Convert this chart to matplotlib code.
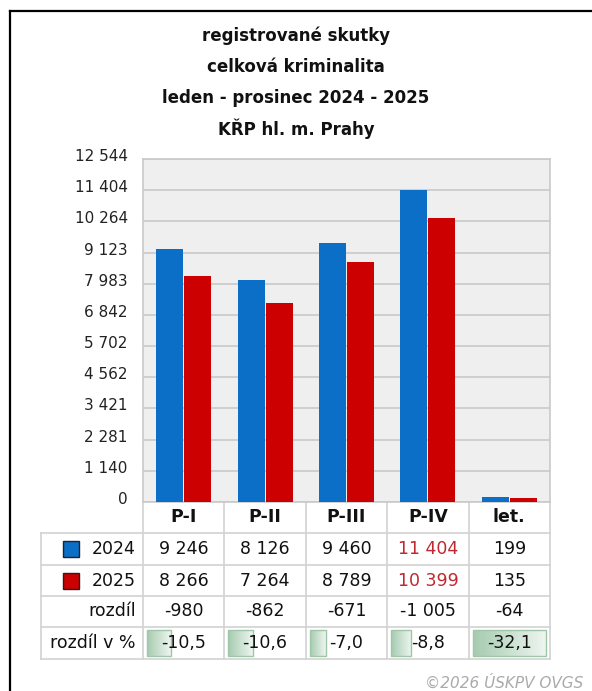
import numpy as np
import matplotlib
matplotlib.use("Agg")
import matplotlib.pyplot as plt
from matplotlib.patches import Rectangle
from matplotlib.colors import LinearSegmentedColormap
import matplotlib.transforms as mtransforms

# ---- data ----
TITLE_LINES = ["registrované skutky", "celková kriminalita",
               "leden - prosinec 2024 - 2025", "KŘP hl. m. Prahy"]
CATEGORIES = ["P-I", "P-II", "P-III", "P-IV", "let."]
VALUES_2024 = [9246, 8126, 9460, 11404, 199]
VALUES_2025 = [8266, 7264, 8789, 10399, 135]
DIFF = [-980, -862, -671, -1005, -64]
DIFF_PCT = [-10.5, -10.6, -7.0, -8.8, -32.1]
Y_TICKS = [0, 1140, 2281, 3421, 4562, 5702, 6842, 7983, 9123, 10264, 11404, 12544]
HIGHLIGHT_COL = 3  # P-IV values shown in red

BLUE = "#0b6fc8"
RED = "#cc0000"
GRID = "#c9c9c9"
TABLE_LINE = "#d2d2d2"
W, H = 592, 691


def fmt(v):
    return f"{v:,}".replace(",", " ")


def fmt_pct(v):
    return f"{v:.1f}".replace(".", ",")


fig = plt.figure(figsize=(W / 100, H / 100), dpi=100, facecolor="white")

# overlay axes in pixel coordinates for the table / titles / frame
ov = fig.add_axes([0, 0, 1, 1], zorder=0)
ov.patch.set_visible(False)
ov.axis("off")

# plot area
ax_l, ax_r, ax_t, ax_b = 143, 550, 159, 502
ax = fig.add_axes([ax_l / W, 1 - ax_b / H, (ax_r - ax_l) / W, (ax_b - ax_t) / H], zorder=1)
ax.set_facecolor("#efefef")

x = np.arange(len(CATEGORIES))
bw = 0.33
ax.bar(x - 0.172, VALUES_2024, bw, color=BLUE, zorder=3)
ax.bar(x + 0.172, VALUES_2025, bw, color=RED, zorder=3)
ax.set_xlim(-0.5, len(CATEGORIES) - 0.5)
ax.set_ylim(0, Y_TICKS[-1])
ax.set_yticks(Y_TICKS)
ax.set_yticklabels([fmt(v) for v in Y_TICKS])
ax.set_xticks([])
ax.tick_params(axis="y", length=0, pad=11, labelsize=11, labelcolor="#222222")
shift = mtransforms.ScaledTranslation(0, 4 / 100, fig.dpi_scale_trans)
for lab in ax.get_yticklabels():
    lab.set_transform(lab.get_transform() + shift)
ax.grid(axis="y", color=GRID, linewidth=1.2, zorder=0)
for s in ax.spines.values():
    s.set_color(GRID)
    s.set_linewidth(1.2)

# title
for i, line in enumerate(TITLE_LINES):
    ov.text(296, 36 + i * 31, line, ha="center", va="center",
            fontsize=12, fontweight="bold", color="#111111")

# frame (left and top only)
ov.plot([9.5, 9.5], [H, 11], color="black", lw=1.6)
ov.plot([9.5, W], [11, 11], color="black", lw=1.6)

# table
trans = mtransforms.blended_transform_factory(ax.transData, ov.transData)
rows = [502, 533, 565, 596, 627, 659]
tab_left = 40.7
for y in rows[1:]:
    ov.plot([tab_left, ax_r], [y, y], color=TABLE_LINE, lw=1.2)
ov.plot([tab_left, tab_left], [rows[1], rows[-1]], color=TABLE_LINE, lw=1.2)
for i in range(len(CATEGORIES) + 1):
    ov.plot([i - 0.5, i - 0.5], [rows[0], rows[-1]], color=TABLE_LINE, lw=1.2,
            transform=trans)

centers = [(rows[k] + rows[k + 1]) / 2 for k in range(len(rows) - 1)]
tfs = 12.5
for i, cat in enumerate(CATEGORIES):
    ov.text(i, centers[0], cat, ha="center", va="center", fontsize=tfs,
            fontweight="bold", color="#111111", transform=trans)
    col = "#c0282d" if i == HIGHLIGHT_COL else "#111111"
    ov.text(i, centers[1], fmt(VALUES_2024[i]), ha="center", va="center",
            fontsize=tfs, color=col, transform=trans)
    ov.text(i, centers[2], fmt(VALUES_2025[i]), ha="center", va="center",
            fontsize=tfs, color=col, transform=trans)
    ov.text(i, centers[3], fmt(DIFF[i]), ha="center", va="center",
            fontsize=tfs, color="#111111", transform=trans)

# percent boxes with gradient
cmap = LinearSegmentedColormap.from_list("g", ["#a6cbb0", "#eef6f0"])
grad = np.linspace(0, 1, 64).reshape(1, -1)
pmax = max(abs(p) for p in DIFF_PCT)
for i, p in enumerate(DIFF_PCT):
    x0 = i - 0.5 + 0.05
    w = 0.9 * abs(p) / pmax
    ov.imshow(grad, cmap=cmap, extent=(x0, x0 + w, 656, 630), aspect="auto",
              transform=trans, zorder=1)
    ov.add_patch(Rectangle((x0, 630), w, 26, fill=False, edgecolor="#9fc6a8",
                           lw=1, transform=trans, zorder=2))
    ov.text(i, centers[4], fmt_pct(p), ha="center", va="center",
            fontsize=tfs, color="#111111", transform=trans, zorder=3)

# row labels with legend squares
lx = 136
ov.add_patch(Rectangle((63, 541), 16, 16, facecolor=BLUE, edgecolor="#222222", lw=1))
ov.add_patch(Rectangle((63, 573), 16, 16, facecolor=RED, edgecolor="#222222", lw=1))
ov.text(lx, centers[1], "2024", ha="right", va="center", fontsize=tfs, color="#111111")
ov.text(lx, centers[2], "2025", ha="right", va="center", fontsize=tfs, color="#111111")
ov.text(lx, centers[3], "rozdíl", ha="right", va="center", fontsize=tfs, color="#111111")
ov.text(lx, centers[4], "rozdíl v %", ha="right", va="center", fontsize=tfs, color="#111111")

ov.text(583, 683, "©2026 ÚSKPV OVGS", ha="right", va="center", fontsize=11,
        style="italic", color="#aaaaaa")

ov.set_xlim(0, W)
ov.set_ylim(H, 0)

fig.savefig("out.png", dpi=100, facecolor="white")
